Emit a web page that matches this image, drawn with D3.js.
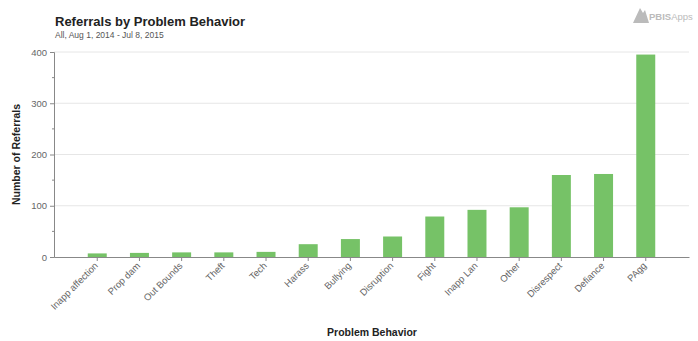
<!DOCTYPE html>
<html><head><meta charset="utf-8">
<script src="https://cdn.jsdelivr.net/npm/d3@7"></script>
<style>body{margin:0;background:#fff}svg{display:block}</style>
</head><body><svg id="c" width="698" height="341"></svg>
<script>
const categories = ["Inapp affection","Prop dam","Out Bounds","Theft","Tech","Harass","Bullying","Disruption","Fight","Inapp Lan","Other","Disrespect","Defiance","PAgg"];
const referrals = [7,8,9,9,10,25,35,40,79,92,97,160,162,395];
const yTicks = [0,100,200,300,400];
const minorTicks = [50,150,250,350];

(function () {
const svg = d3.select("#c");
const mLeft = 54, mRight = 689, mTop = 52, mBottom = 257;
const font = "Helvetica, Arial, 'Liberation Sans', sans-serif";

const x = d3.scaleBand().domain(categories).range([mLeft, mRight]).paddingInner(0.55).paddingOuter(0.8);
const y = d3.scaleLinear().domain([0, 400]).range([mBottom, mTop]);

// gridlines
svg.append("g").selectAll("line").data(yTicks.slice(1)).join("line")
  .attr("x1", mLeft).attr("x2", mRight).attr("y1", d => y(d)).attr("y2", d => y(d))
  .attr("stroke", "#e6e6e6").attr("stroke-width", 1);

// bars
svg.append("g").selectAll("rect").data(categories).join("rect")
  .attr("x", d => x(d)).attr("width", x.bandwidth())
  .attr("y", (d, i) => y(referrals[i])).attr("height", (d, i) => y(0) - y(referrals[i]))
  .attr("fill", "#76c267");

// y axis
const yAxis = svg.append("g").attr("transform", `translate(${mLeft},0)`)
  .call(d3.axisLeft(y).tickValues(yTicks).tickSize(4).tickPadding(3));
yAxis.select(".domain").attr("stroke", "#888");
yAxis.selectAll(".tick line").attr("stroke", "#888");
yAxis.selectAll("text").attr("fill", "#666").style("font-family", font).style("font-size", "9.5px");
svg.append("g").selectAll("line").data(minorTicks).join("line")
  .attr("x1", mLeft - 2).attr("x2", mLeft).attr("y1", d => y(d)).attr("y2", d => y(d)).attr("stroke", "#888");

// x axis
const xAxis = svg.append("g").attr("transform", `translate(0,${mBottom})`)
  .call(d3.axisBottom(x).tickSize(4).tickSizeOuter(0));
xAxis.select(".domain").attr("stroke", "#888");
xAxis.selectAll(".tick line").attr("stroke", "#888");
xAxis.selectAll("text").attr("fill", "#666").style("font-family", font).style("font-size", "9.5px")
  .attr("text-anchor", "end").attr("transform", "translate(-1,7) rotate(-45)").attr("dy", "0.35em").attr("y", 0).attr("x", 0);

// titles
svg.append("text").attr("x", 55).attr("y", 26).text("Referrals by Problem Behavior")
  .style("font-family", font).style("font-size", "13px").style("font-weight", "bold").attr("fill", "#222");
svg.append("text").attr("x", 55).attr("y", 38).text("All, Aug 1, 2014 - Jul 8, 2015")
  .style("font-family", font).style("font-size", "8.5px").attr("fill", "#555");
svg.append("text").attr("x", 372).attr("y", 336).attr("text-anchor", "middle").text("Problem Behavior")
  .style("font-family", font).style("font-size", "10.5px").style("font-weight", "bold").attr("fill", "#222");
svg.append("text").attr("transform", `translate(20,${(mTop + mBottom) / 2}) rotate(-90)`).attr("text-anchor", "middle")
  .text("Number of Referrals").style("font-family", font).style("font-size", "10.5px").style("font-weight", "bold").attr("fill", "#222");

// logo
const logo = svg.append("g").attr("fill", "#bbb");
logo.append("path").attr("d", "M633,23 L640,8 L643,13 L645,10 L649,23 Z");
const lt = logo.append("text").attr("x", 649).attr("y", 20).style("font-family", font).style("font-size", "9.5px");
lt.append("tspan").text("PBIS").style("font-weight", "bold");
lt.append("tspan").text("Apps");
})();
</script></body></html>
